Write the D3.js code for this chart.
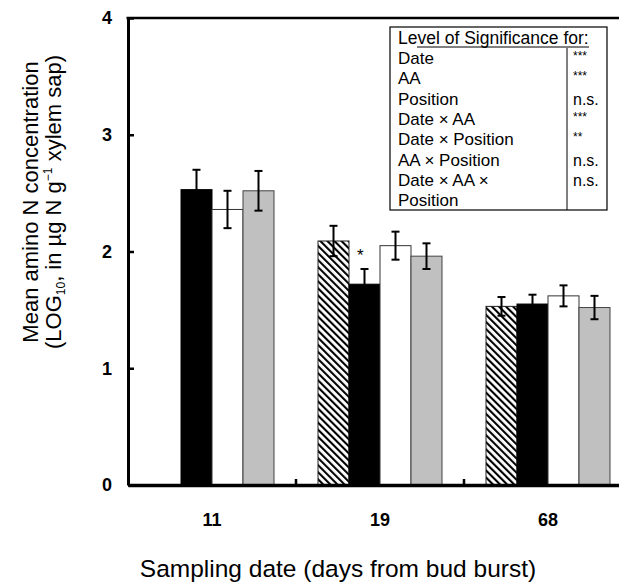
<!DOCTYPE html>
<html>
<head>
<meta charset="utf-8">
<script src="https://cdn.jsdelivr.net/npm/d3@7"></script>
<style>
  body { margin: 0; background: #fff; }
  text { font-family: "Liberation Sans", Arial, sans-serif; }
</style>
</head>
<body>
<script>
var width = 619,
    height = 586;

// sampling dates (days from bud burst)
var dates = ["11", "19", "68"];
// four bar series, named after their fill
var series = ["hatched", "black", "white", "grey"];
// mean LOG10 amino N, one array per series (null = no bar)
var hatchedVals = [null, 2.09, 1.53];
var blackVals   = [2.53, 1.72, 1.55];
var whiteVals   = [2.36, 2.05, 1.62];
var greyVals    = [2.52, 1.96, 1.52];
// error bar half-widths
var hatchedErr = [null, 0.13, 0.08];
var blackErr   = [0.17, 0.13, 0.08];
var whiteErr   = [0.16, 0.12, 0.09];
var greyErr    = [0.17, 0.11, 0.10];
var yTicks = [0, 1, 2, 3, 4];
// significance table
var sigTerms  = ["Date", "AA", "Position", "Date × AA", "Date × Position", "AA × Position", "Date × AA ×|Position"];
var sigLevels = ["***", "***", "n.s.", "***", "**", "n.s.", "n.s."];

var values = {hatched: hatchedVals, black: blackVals, white: whiteVals, grey: greyVals};
var errors = {hatched: hatchedErr, black: blackErr, white: whiteErr, grey: greyErr};

var plotLeft = 128, plotBottom = 485, plotTop = 18;

var svg = d3.select("body").append("svg")
    .attr("width", width)
    .attr("height", height);

// штриховка
var defs = svg.append("defs");
defs.append("pattern")
    .attr("id", "hatch")
    .attr("patternUnits", "userSpaceOnUse")
    .attr("width", 5)
    .attr("height", 5)
    .attr("patternTransform", "rotate(-45)")
  .append("rect")
    .attr("x", 0).attr("y", 0)
    .attr("width", 2.1).attr("height", 5)
    .attr("fill", "#000");

var x = d3.scaleBand()
    .domain(dates)
    .range([plotLeft, 632])
    .padding(0);

var xs = d3.scaleBand()
    .domain(series)
    .range([0, x.bandwidth()])
    .paddingInner(0)
    .paddingOuter(0.71);

var y = d3.scaleLinear()
    .domain([0, 4])
    .range([plotBottom, plotTop]);

var fills = {hatched: "url(#hatch)", black: "#000", white: "#fff", grey: "#c0c0c0"};
var strokes = {hatched: "#222", black: "#000", white: "#333", grey: "#444"};

// bars
var rows = [];
dates.forEach(function(d, i) {
  series.forEach(function(s) {
    if (values[s][i] != null)
      rows.push({date: d, s: s, v: values[s][i], e: errors[s][i]});
  });
});

var bars = svg.append("g");
bars.selectAll("rect")
    .data(rows)
    .enter().append("rect")
    .attr("x", function(d) { return x(d.date) + xs(d.s); })
    .attr("y", function(d) { return y(d.v); })
    .attr("width", xs.bandwidth())
    .attr("height", function(d) { return y(0) - y(d.v); })
    .attr("fill", function(d) { return fills[d.s]; })
    .attr("stroke", function(d) { return strokes[d.s]; })
    .attr("stroke-width", 1);

// error bars
var eb = svg.append("g")
    .attr("stroke", "#000")
    .attr("stroke-width", 2);
rows.forEach(function(d) {
  var cx = x(d.date) + xs(d.s) + xs.bandwidth() / 2;
  eb.append("line")
      .attr("x1", cx).attr("x2", cx)
      .attr("y1", y(d.v + d.e)).attr("y2", y(d.v - d.e));
  [d.v + d.e, d.v - d.e].forEach(function(v) {
    eb.append("line")
        .attr("x1", cx - 4).attr("x2", cx + 4)
        .attr("y1", y(v)).attr("y2", y(v));
  });
});

// asterisk next to the 19-day black bar
svg.append("text")
    .attr("x", x("19") + xs("black") + 8)
    .attr("y", y(values.black[1] + errors.black[1]) - 8)
    .attr("font-size", 17)
    .text("*");

// y axis
var yAxis = d3.axisLeft(y)
    .tickValues(yTicks)
    .tickFormat(d3.format("d"))
    .tickSizeInner(-6)
    .tickSizeOuter(0)
    .tickPadding(16);

var gy = svg.append("g")
    .attr("transform", "translate(" + plotLeft + ",0)")
    .call(yAxis);
gy.select(".domain").attr("stroke-width", 3);
gy.selectAll(".tick line").attr("stroke-width", 2.5);
gy.selectAll(".tick text")
    .attr("font-size", 18)
    .attr("font-weight", "bold")
    .attr("font-family", "Liberation Sans, Arial, sans-serif");

// top frame line
svg.append("line")
    .attr("x1", plotLeft - 1.5).attr("x2", width)
    .attr("y1", y(4)).attr("y2", y(4))
    .attr("stroke", "#000")
    .attr("stroke-width", 2.5);

// x axis
var xAxis = d3.axisBottom(x)
    .tickSize(0)
    .tickPadding(28);
var gx = svg.append("g")
    .attr("transform", "translate(0," + plotBottom + ")")
    .call(xAxis);
gx.select(".domain").attr("stroke-width", 3.5);
gx.selectAll(".tick text")
    .attr("font-size", 18)
    .attr("font-weight", "bold")
    .attr("font-family", "Liberation Sans, Arial, sans-serif");

// small ticks between dates
svg.append("g").selectAll("line")
    .data(dates.slice(1))
    .enter().append("line")
    .attr("x1", function(d) { return x(d); })
    .attr("x2", function(d) { return x(d); })
    .attr("y1", plotBottom)
    .attr("y2", plotBottom - 6)
    .attr("stroke", "#000")
    .attr("stroke-width", 2.5);

// axis titles
svg.append("text")
    .attr("x", 338)
    .attr("y", 577)
    .attr("text-anchor", "middle")
    .attr("font-size", 24.5)
    .text("Sampling date (days from bud burst)");

var yt = svg.append("g")
    .attr("transform", "translate(0,202) rotate(-90)")
    .attr("text-anchor", "middle")
    .attr("font-size", 22);
yt.append("text")
    .attr("x", 0).attr("y", 38)
    .text("Mean amino N concentration");
var yt2 = yt.append("text")
    .attr("x", 0).attr("y", 61);
yt2.append("tspan").text("(LOG");
yt2.append("tspan").attr("font-size", 12).attr("dy", 4).text("10");
yt2.append("tspan").attr("dy", -4).text(", in µg N g");
yt2.append("tspan").attr("font-size", 12).attr("dy", -9).text("−1");
yt2.append("tspan").attr("dy", 9).text(" xylem sap)");

// significance table
var tb = svg.append("g");
var bx = 390, by = 27, bw = 217, bh = 183, divX = 567, rowH = 20.3;
tb.append("rect")
    .attr("x", bx).attr("y", by)
    .attr("width", bw).attr("height", bh)
    .attr("fill", "#fff")
    .attr("stroke", "#000")
    .attr("stroke-width", 1.2);
tb.append("line")
    .attr("x1", divX).attr("x2", divX)
    .attr("y1", 48).attr("y2", by + bh)
    .attr("stroke", "#000");
tb.append("line")
    .attr("x1", 417).attr("x2", 589)
    .attr("y1", 47).attr("y2", 47)
    .attr("stroke", "#000");
tb.append("text")
    .attr("x", 398).attr("y", 44)
    .attr("font-size", 17.5)
    .text("Level of Significance for:");

var lines = [];
sigTerms.forEach(function(t, i) {
  t.split("|").forEach(function(part, j) {
    lines.push({text: part, level: j === 0 ? sigLevels[i] : ""});
  });
});
lines.forEach(function(d, i) {
  var yy = 64 + i * rowH;
  tb.append("text")
      .attr("x", 398).attr("y", yy)
      .attr("font-size", 17)
      .text(d.text);
  var stars = d.level.indexOf("*") === 0;
  tb.append("text")
      .attr("x", 573).attr("y", stars ? yy - 4 : yy)
      .attr("font-size", stars ? 12 : 16)
      .text(d.level);
});
</script>
</body>
</html>
